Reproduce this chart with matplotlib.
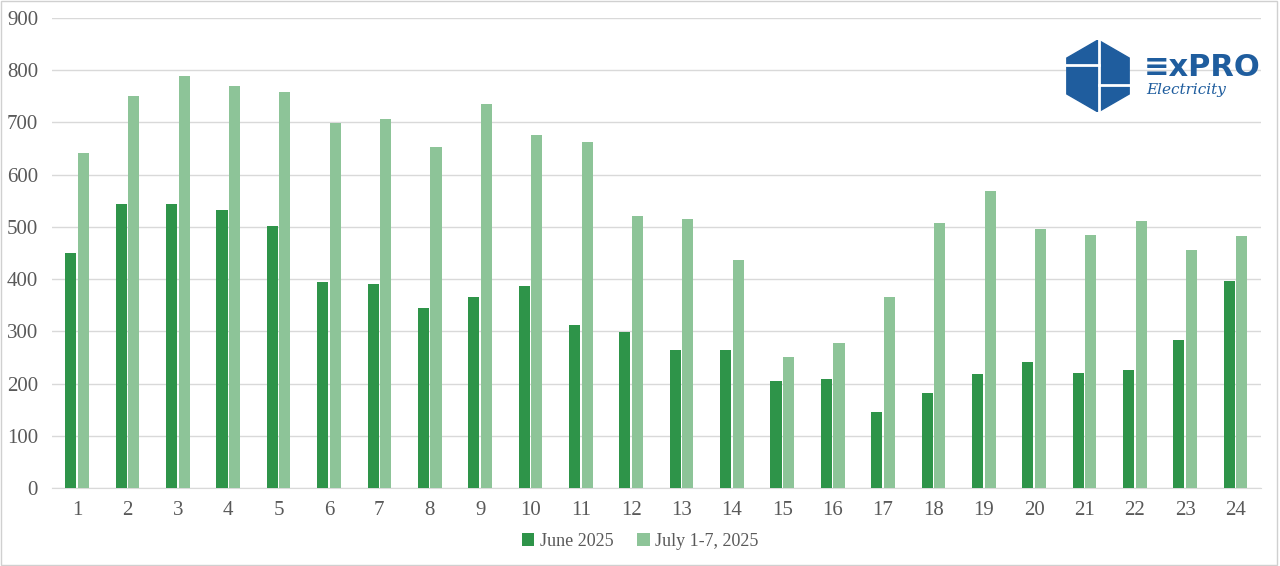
import numpy as np
import matplotlib.pyplot as plt
from matplotlib.patches import RegularPolygon, Rectangle

# ======================
# DATA
# ======================
hours = list(range(1, 25))
june_2025 = [450, 544, 544, 532, 502, 394, 391, 345, 366, 387, 312, 299,
             264, 264, 205, 209, 146, 182, 218, 241, 220, 226, 283, 396]
july_1_7_2025 = [641, 751, 789, 770, 758, 699, 707, 653, 735, 676, 663, 521,
                 515, 437, 251, 278, 366, 508, 569, 496, 484, 511, 456, 483]
series_names = ["June 2025", "July 1-7, 2025"]

# ======================
# STYLE
# ======================
DARK = "#2e9449"
LIGHT = "#8dc498"
TEXT = "#595959"
GRID = "#d9d9d9"
plt.rcParams["font.family"] = ["Liberation Serif", "DejaVu Serif"]

fig = plt.figure(figsize=(12.8, 5.66), dpi=100)
ax = fig.add_axes([0.0406, 0.1378, 0.9444, 0.8304])

x = np.arange(len(hours))
w = 0.22
gap = 0.03
ax.bar(x - (w + gap) / 2, june_2025, width=w, color=DARK, label=series_names[0], zorder=3)
ax.bar(x + (w + gap) / 2, july_1_7_2025, width=w, color=LIGHT, label=series_names[1], zorder=3)

ax.set_xlim(-0.5, len(hours) - 0.5)
ax.set_ylim(0, 900)
ax.set_yticks(range(0, 901, 100))
ax.set_xticks(x)
ax.set_xticklabels([str(h) for h in hours])
ax.yaxis.grid(True, color=GRID, linewidth=1, zorder=0)
for s in ["top", "right", "left"]:
    ax.spines[s].set_visible(False)
ax.spines["bottom"].set_color(GRID)
ax.tick_params(length=0, labelsize=15, colors=TEXT)
ax.tick_params(axis="x", pad=9)
ax.tick_params(axis="y", pad=10)

leg = fig.legend(loc="center", bbox_to_anchor=(0.5, 0.044), ncol=2, frameon=False,
                 fontsize=13, handlelength=0.7, handleheight=0.7, columnspacing=1.3,
                 handletextpad=0.3, labelcolor=TEXT)

# figure border
fig.add_artist(Rectangle((0.001, 0.002), 0.997, 0.996, transform=fig.transFigure,
                         fill=False, edgecolor="#d0d0d0", linewidth=1))

# ======================
# LOGO
# ======================
BLUE = "#1f5d9e"
lax = fig.add_axes([1062 / 1280, 1 - 112 / 566, 72 / 1280, 72 / 566])
lax.set_xlim(-1, 1)
lax.set_ylim(-1, 1)
lax.set_aspect("equal")
lax.axis("off")
lax.add_patch(RegularPolygon((0, 0), 6, radius=1.0, orientation=0, color=BLUE))
lax.plot([0.02, 0.02], [-1, 1], color="white", lw=2)
lax.plot([-1, 0.02], [0.3, 0.3], color="white", lw=2)
lax.plot([0.02, 1], [-0.25, -0.25], color="white", lw=2)

fig.text(1144 / 1280, 1 - 68 / 566, "\u2261xPRO", color=BLUE, fontsize=22,
         fontweight="bold", family=["DejaVu Sans"], va="center", ha="left")
fig.text(1146 / 1280, 1 - 90 / 566, "Electricity", color=BLUE, fontsize=11,
         style="italic", family=["DejaVu Serif"], va="center", ha="left")

fig.savefig("out.png", dpi=100)
